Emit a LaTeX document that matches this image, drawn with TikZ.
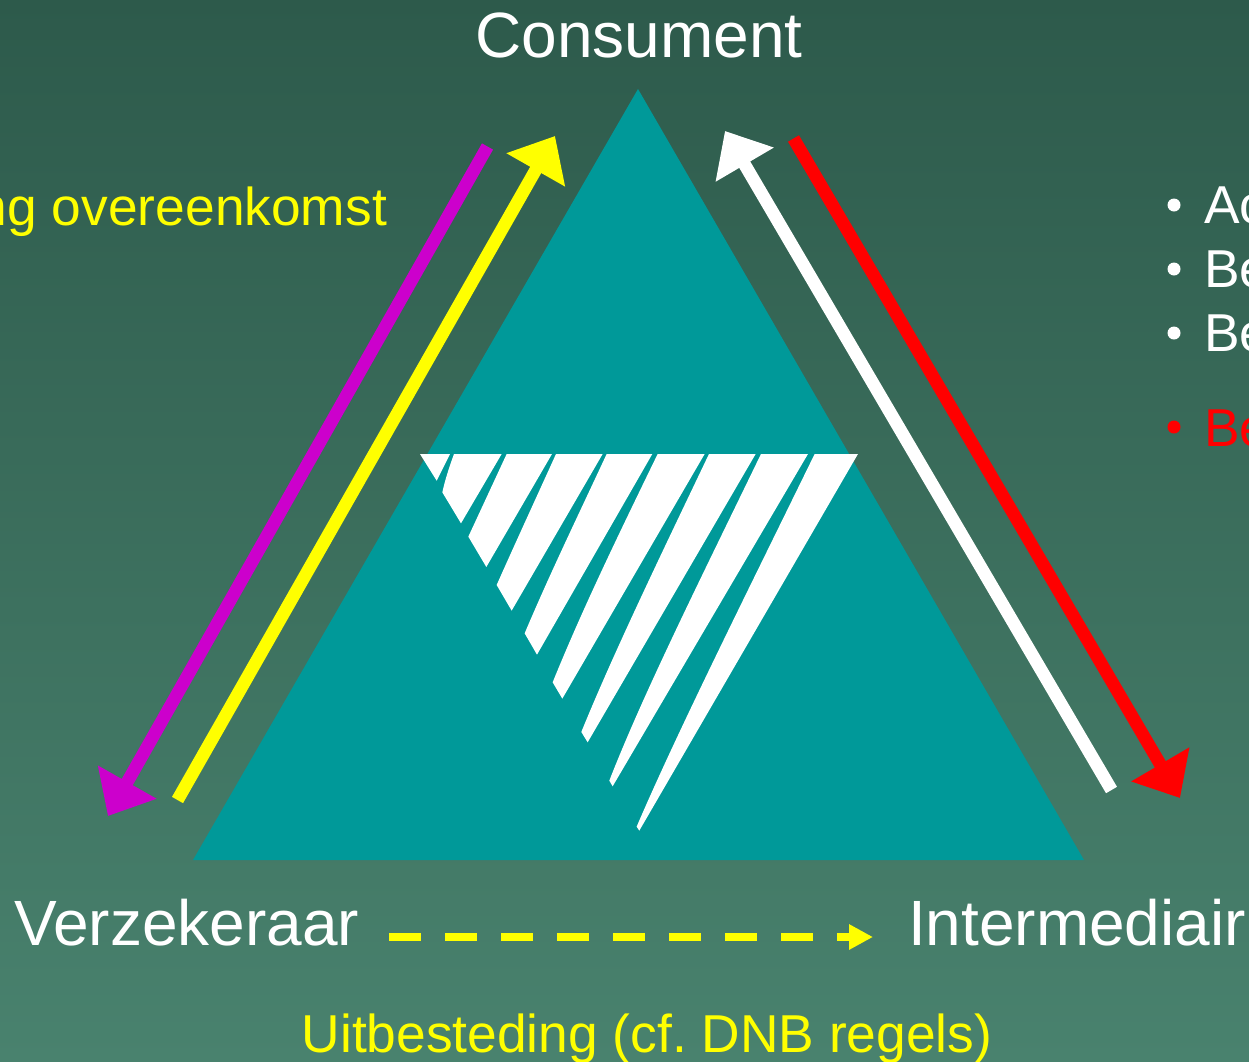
\documentclass[tikz,border=0pt]{standalone}
\usepackage{fontspec}
\setmainfont{Liberation Sans}
\usetikzlibrary{arrows.meta}
\definecolor{bgtop}{HTML}{2D5A4B}
\definecolor{bgbot}{HTML}{49826E}
\definecolor{teal}{HTML}{009999}
\definecolor{magent}{HTML}{CC00CC}
\definecolor{yel}{HTML}{FFFF00}
\definecolor{rd}{HTML}{FF0000}
\tikzset{
  biglabel/.style={anchor=base,inner sep=0pt,outer sep=0pt,text=white,font=\fontsize{64}{70}\selectfont},
  midlabel/.style={anchor=base,inner sep=0pt,outer sep=0pt,text=yel,font=\fontsize{53.33}{60}\selectfont},
  itemlabel/.style={anchor=base west,inner sep=0pt,outer sep=0pt,font=\fontsize{53.33}{60}\selectfont},
  bulletdot/.style={circle,inner sep=0pt,minimum size=13pt,outer sep=0pt},
  flow/.style={line width=12.7pt,-{Triangle[width=65pt,length=39pt]}},
  outsource/.style={draw=yel,line width=8pt,dash pattern=on 32pt off 24pt,-{Triangle[width=24pt,length=24pt]}},
  stripe/.style={fill=white,draw=none}
}
\frenchspacing
\begin{document}
\begin{tikzpicture}[x=1pt,y=-1pt]
\useasboundingbox (0,0) rectangle (1249,1061);
\clip (0,0) rectangle (1249,1061);
\shade[top color=bgtop,bottom color=bgbot] (0,0) rectangle (1249,1061);
\fill[teal] (638,89) -- (1084,860) -- (193,860) -- cycle;
\begin{scope}[shift={(400,440)},x=0.3333pt,y=-0.3333pt]
\fill[stripe] (60,42) -- (150,42) -- (110,122) -- cycle;
\fill[stripe] (162,42) -- (305,42) -- (183,250) -- (127,157) .. controls (135,120) and (148,80) .. (162,42) -- cycle;
\fill[stripe] (320,42) -- (456,42) -- (259,381) -- (205,290) -- cycle;
\fill[stripe] (468,42) -- (608,42) -- (335,512) -- (290,435) .. controls (350,300) and (410,170) .. (468,42) -- cycle;
\fill[stripe] (620,42) -- (757,42) -- (411,644) -- (374,580) .. controls (450,400) and (535,225) .. (620,42) -- cycle;
\fill[stripe] (773,42) -- (914,42) -- (487,776) -- (458,727) .. controls (550,500) and (660,275) .. (773,42) -- cycle;
\fill[stripe] (927,42) -- (1067,42) -- (563,907) -- (544,876) .. controls (640,640) and (780,350) .. (927,42) -- cycle;
\fill[stripe] (1083,42) -- (1224,42) -- (638,1039) -- (628,1022) .. controls (730,760) and (900,420) .. (1083,42) -- cycle;
\fill[stripe] (1244,42) -- (1374,42) -- (718,1172) -- (710,1160) .. controls (830,880) and (1030,480) .. (1244,42) -- cycle;
\end{scope}
% connector ends
\coordinate (magStart) at (487.5,146.5);
\coordinate (magEnd) at (108,816);
\coordinate (yelStart) at (177.5,800);
\coordinate (yelEnd) at (555,136);
\coordinate (whtStart) at (1111.5,790);
\coordinate (whtEnd) at (725,131);
\coordinate (redStart) at (793.5,138.5);
\coordinate (redEnd) at (1180,798);
\draw[flow,draw=magent] (magStart) -- (magEnd);
\draw[flow,draw=yel] (yelStart) -- (yelEnd);
\draw[flow,draw=white] (whtStart) -- (whtEnd);
\draw[flow,draw=rd] (redStart) -- (redEnd);
% labels
\node[biglabel] (consument) at (639,57) {Consument};
\node[biglabel,anchor=base west] (verzekeraar) at (14,945) {Verzekeraar};
\node[biglabel,anchor=base west] (intermediair) at (908,945) {Intermediair};
\coordinate (dashStart) at (389,937);
\coordinate (dashEnd) at (873,937);
\draw[outsource] (dashStart) -- (dashEnd);
\node[midlabel,anchor=base east] (overeenkomst) at (387,225) {ng overeenkomst};
\node[midlabel] (uitbesteding) at (647,1052) {Uitbesteding (cf. DNB regels)};
\node[bulletdot,fill=white] (b1) at (1174,205) {};
\node[bulletdot,fill=white] (b2) at (1174,269) {};
\node[bulletdot,fill=white] (b3) at (1174,333) {};
\node[bulletdot,fill=rd] (b4) at (1174,427) {};
\node[itemlabel,text=white] (t1) at (1204,223) {Ac};
\node[itemlabel,text=white] (t2) at (1204,287) {Be};
\node[itemlabel,text=white] (t3) at (1204,351) {Be};
\node[itemlabel,text=rd] (t4) at (1204,446) {Be};
\end{tikzpicture}
\end{document}
